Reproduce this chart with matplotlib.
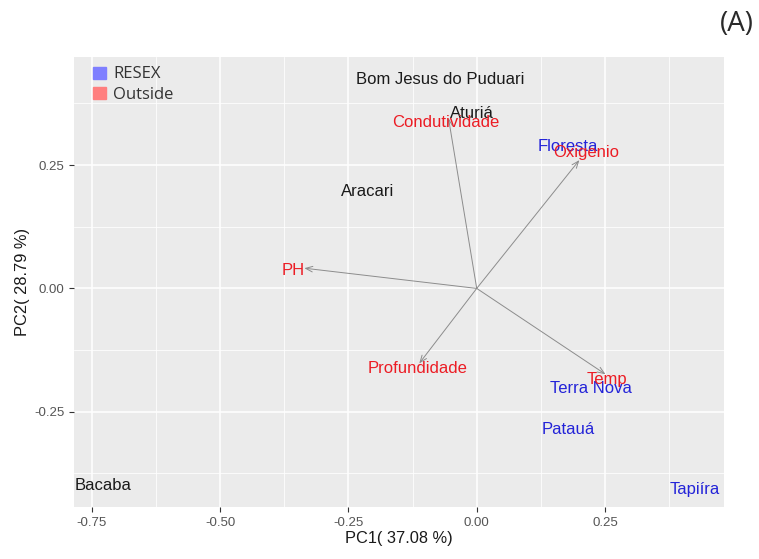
import numpy as np
import matplotlib
matplotlib.use("Agg")
import matplotlib.pyplot as plt
from matplotlib.patches import Patch
from matplotlib.ticker import MultipleLocator

# site scores (PC1, PC2)
sites = ["Bom Jesus do Puduari", "Aturiá", "Aracari", "Bacaba",
         "Floresta", "Terra Nova", "Patauá", "Tapiíra"]
site_pc1 = [-0.072, -0.009, -0.212, -0.728, 0.178, 0.223, 0.178, 0.425]
site_pc2 = [0.424, 0.355, 0.197, -0.399, 0.288, -0.202, -0.285, -0.407]
site_group = ["out", "out", "out", "out", "resex", "resex", "resex", "resex"]

# variable loadings (arrow tips) and where their names sit
variables = ["Condutividade", "Oxigenio", "PH", "Profundidade", "Temp"]
load_pc1 = [-0.055, 0.200, -0.336, -0.112, 0.251]
load_pc2 = [0.345, 0.260, 0.041, -0.152, -0.174]
name_pc1 = [-0.060, 0.213, -0.358, -0.116, 0.254]
name_pc2 = [0.336, 0.275, 0.037, -0.162, -0.184]

legend_labels = ["RESEX", "Outside"]
xticks = [-0.75, -0.50, -0.25, 0.00, 0.25]
yticks = [-0.25, 0.00, 0.25]

text_col = {"out": "#1a1a1a", "resex": "#2323d8"}
var_col = "#ec1c24"

fig = plt.figure(figsize=(7.59, 5.59), dpi=100)
ax = fig.add_axes([74 / 759, 52 / 559, 650 / 759, 450 / 559])
ax.set_facecolor("#ebebeb")
for s in ax.spines.values():
    s.set_visible(False)

ax.set_xlim(-0.785, 0.482)
ax.set_ylim(-0.443, 0.469)
ax.set_xticks(xticks)
ax.set_yticks(yticks)
ax.set_xticklabels([f"{v:.2f}" for v in xticks])
ax.set_yticklabels([f"{v:.2f}" for v in yticks])
ax.xaxis.set_minor_locator(MultipleLocator(0.125))
ax.yaxis.set_minor_locator(MultipleLocator(0.125))
ax.grid(which="major", color="white", lw=1.1)
ax.grid(which="minor", color="white", lw=0.55)
ax.set_axisbelow(True)
ax.tick_params(which="major", length=3.5, width=0.8, color="#333333",
               labelcolor="#555555", labelsize=9.5)
ax.tick_params(which="minor", length=0)
for t in ax.get_xticklabels() + ax.get_yticklabels():
    t.set_family("Liberation Sans")

# arrows from origin
for vx, vy in zip(load_pc1, load_pc2):
    ax.annotate("", xy=(vx, vy), xytext=(0, 0),
                arrowprops=dict(arrowstyle="->,head_length=0.5,head_width=0.2",
                                color="#8c8c8c", lw=0.7, shrinkA=0, shrinkB=0))

for name, x, y, g in zip(sites, site_pc1, site_pc2, site_group):
    ax.text(x, y, name, color=text_col[g], fontsize=12, ha="center", va="center",
            family="Liberation Sans")

for name, x, y in zip(variables, name_pc1, name_pc2):
    ax.text(x, y, name, color=var_col, fontsize=12, ha="center",
            va="center", family="Liberation Sans")

ax.set_xlabel("PC1( 37.08 %)", fontsize=11.8, family="Liberation Sans",
              color="#1a1a1a", labelpad=2)
ax.set_ylabel("PC2( 28.79 %)", fontsize=11.8, family="Liberation Sans",
              color="#1a1a1a", labelpad=3)

handles = [Patch(color="#7f7fff"), Patch(color="#ff7f7f")]
leg = ax.legend(handles, legend_labels, loc="upper left", frameon=False,
                bbox_to_anchor=(0.004, 1.016), handlelength=0.75, handleheight=0.75,
                handletextpad=0.45, labelspacing=0.25, borderaxespad=0.6,
                prop={"family": "Open Sans", "size": 12})
for t in leg.get_texts():
    t.set_color("#333333")

fig.text(0.971, 0.957, "(A)", fontsize=20, family="Open Sans",
         color="#2a2a2a", ha="center", va="center")

fig.savefig("out.png", dpi=100)
